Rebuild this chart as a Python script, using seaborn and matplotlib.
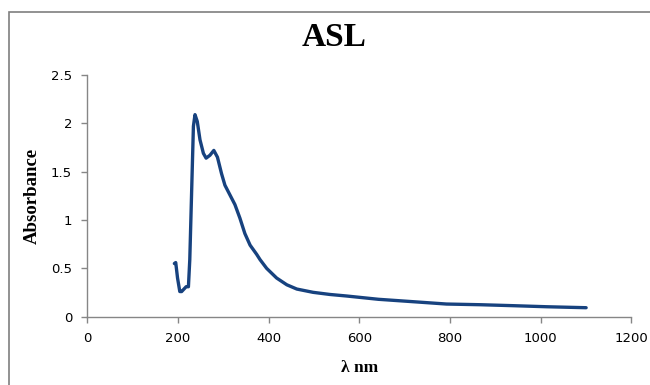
import numpy as np
import pandas as pd
import matplotlib
matplotlib.use("Agg")
import matplotlib.pyplot as plt
from matplotlib.patches import Rectangle
import seaborn as sns

# UV-Vis spectrum
wavelength = [192, 195, 199, 204, 208, 212, 218, 223, 226, 230, 234, 237.5,
              242.5, 248.5, 256, 262, 270.5, 279, 287, 296, 303.5, 314.5,
              325.5, 336.5, 347.5, 359, 373.5, 381, 395.5, 417.5, 440, 462,
              498, 535, 572, 609, 642, 719, 792, 866, 939, 1013, 1100]
absorbance = [0.55, 0.56, 0.40, 0.26, 0.26, 0.28, 0.31, 0.31, 0.59, 1.28,
              1.97, 2.09, 2.02, 1.83, 1.69, 1.64, 1.67, 1.72, 1.65, 1.48,
              1.36, 1.26, 1.16, 1.02, 0.86, 0.74, 0.645, 0.59, 0.50, 0.40,
              0.33, 0.286, 0.252, 0.23, 0.214, 0.196, 0.18, 0.155, 0.131,
              0.124, 0.114, 0.103, 0.093]
x_ticks = [0, 200, 400, 600, 800, 1000, 1200]
y_ticks = [0, 0.5, 1, 1.5, 2, 2.5]
y_tick_labels = ["0", "0.5", "1", "1.5", "2", "2.5"]

df = pd.DataFrame({"wl": wavelength, "abs": absorbance})

sns.set_style("white")
plt.rcParams["font.family"] = ["DejaVu Sans"]

fig = plt.figure(figsize=(6.5, 3.85), dpi=100)
ax = fig.add_axes([0.1343, 0.1774, 0.8372, 0.6278])

sns.lineplot(data=df, x="wl", y="abs", ax=ax, color="#17427f", lw=2.4,
             sort=False)

ax.set_xlim(0, 1200)
ax.set_ylim(0, 2.5)
ax.set_xticks(x_ticks)
ax.set_yticks(y_ticks)
ax.set_yticklabels(y_tick_labels)

for s in ["top", "right"]:
    ax.spines[s].set_visible(False)
for s in ["left", "bottom"]:
    ax.spines[s].set_color("#868686")
    ax.spines[s].set_linewidth(1.0)
ax.tick_params(axis="both", direction="out", length=4, width=1,
               color="#868686", labelsize=9.5, labelcolor="black")
ax.tick_params(axis="x", pad=7, bottom=True)
ax.tick_params(axis="y", pad=7, left=True)

serif = ["Liberation Serif", "DejaVu Serif"]
fig.text(334 / 650, 1 - 46 / 385, "ASL", family=serif, fontsize=24,
         fontweight="bold", ha="center", va="baseline", color="black")
ax.set_xlabel("λ nm", family=serif, fontsize=12.5, fontweight="bold",
              labelpad=11, color="black")
ax.set_ylabel("Absorbance", family=serif, fontsize=13.5, fontweight="bold",
              labelpad=7, color="black")

# chart frame, cut off at the right and bottom edge like the reference
fig.patches.append(Rectangle((9 / 650, -0.02), 1.05, 1 - 12 / 385 + 0.02,
                             transform=fig.transFigure, fill=False,
                             edgecolor="#7f7f7f", lw=1.2))

fig.savefig("out.png", dpi=100)
